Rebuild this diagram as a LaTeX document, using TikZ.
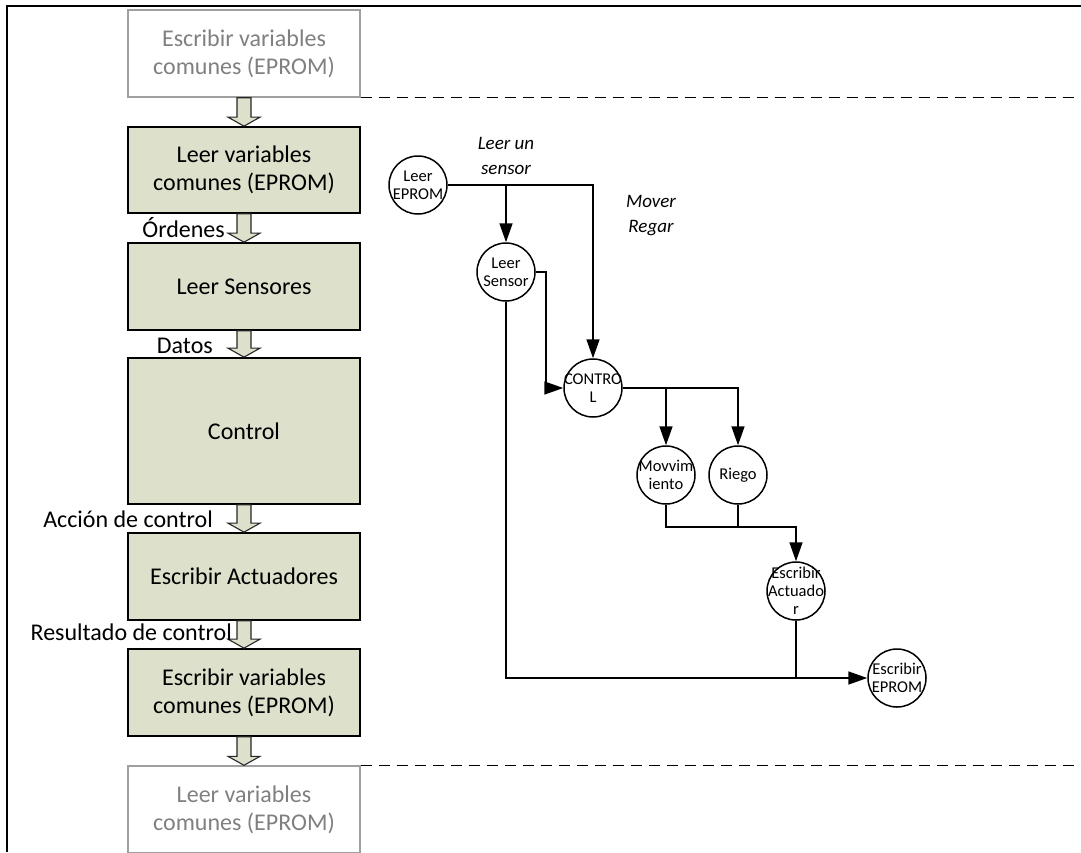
\documentclass[tikz,border=0pt]{standalone}
\usepackage{fontspec}
\setmainfont{Carlito}
\usetikzlibrary{arrows.meta}

\definecolor{stagefill}{RGB}{221,224,203}
\definecolor{ghostline}{RGB}{160,160,160}
\definecolor{ghosttext}{RGB}{128,128,128}

% block arrow between two stacked stages
\newcommand{\stagearrow}[2]{%
  \draw[stagearrow] ([xshift=-7pt]#1.south) -- ([xshift=7pt]#1.south)
    -- ([xshift=7pt,yshift=9pt]#2.north) -- ([xshift=16pt,yshift=9pt]#2.north)
    -- (#2.north) -- ([xshift=-16pt,yshift=9pt]#2.north)
    -- ([xshift=-7pt,yshift=9pt]#2.north) -- cycle;}

\begin{document}
\begin{tikzpicture}[x=1pt,y=-1pt,
  stage/.style={draw=black, line width=1.7pt, fill=stagefill,
    minimum width=232pt, inner sep=0pt, align=center,
    font=\fontsize{24}{28}\selectfont},
  ghost/.style={stage, draw=ghostline, line width=1.4pt, fill=white, text=ghosttext},
  stagearrow/.style={draw=black!85, line width=1.1pt, fill=stagefill, line join=miter},
  annot/.style={inner sep=0pt, font=\fontsize{24}{28}\selectfont},
  guide/.style={line width=1.5pt, dash pattern=on 11pt off 7pt},
  proc/.style={circle, draw=black, line width=1.5pt, minimum size=58pt, inner sep=0pt},
  proctext/.style={align=center, inner sep=0pt, font=\fontsize{16.5}{18}\selectfont},
  flow/.style={line width=1.6pt},
  flowarrow/.style={flow, -{Triangle[length=19pt,width=13pt]}},
  flowlabel/.style={align=center, inner sep=0pt, font=\itshape\fontsize{19}{25}\selectfont}]

\useasboundingbox (0,0) rectangle (1081,852);
\clip (0,0) rectangle (1081,852);

% outer frame
\draw[line width=2.2pt] (7,852) -- (7,6) -- (1081,6);

% ---- stages of the loop ----
\node[ghost, minimum height=87pt] (b1) at (244,53.5) {Escribir variables\\comunes (EPROM)};
\node[stage, minimum height=86pt] (b2) at (244,170) {Leer variables\\comunes (EPROM)};
\node[stage, minimum height=87pt] (b3) at (244,286.5) {Leer Sensores};
\node[stage, minimum height=146pt] (b4) at (244,431) {Control};
\node[stage, minimum height=87pt] (b5) at (244,576.5) {Escribir Actuadores};
\node[stage, minimum height=87pt] (b6) at (244,692.5) {Escribir variables\\comunes (EPROM)};
\node[ghost, minimum height=87pt] (b7) at (244,809.5) {Leer variables\\comunes (EPROM)};

\stagearrow{b1}{b2}
\stagearrow{b2}{b3}
\stagearrow{b3}{b4}
\stagearrow{b4}{b5}
\stagearrow{b5}{b6}
\stagearrow{b6}{b7}

% cycle boundaries
\draw[guide] (b1.south east) -- ++(730,0);
\draw[guide] (b7.north east) -- ++(730,0);

% data passed between stages
\node[annot, anchor=base east] (l1) at (225,237) {Órdenes};
\node[annot, anchor=base east] (l2) at (213,353) {Datos};
\node[annot, anchor=base east] (l3) at (213,527) {Acción de control};
\node[annot, anchor=base east] (l4) at (232,640) {Resultado de control};

% ---- process diagram ----
\node[proc, label={[proctext]center:{Leer\\EPROM}}] (le) at (418,185) {};
\node[proc, label={[proctext]center:{Leer\\Sensor}}] (ls) at (506,272) {};
\node[proc, label={[proctext]center:{CONTRO\\L}}] (ct) at (593,388) {};
\node[proc, label={[proctext]center:{Movvim\\iento}}] (mv) at (666,475) {};
\node[proc, label={[proctext]center:{Riego}}] (rg) at (738,475) {};
\node[proc, label={[proctext]center:{Escribir\\Actuado\\r}}] (ea) at (796,591) {};
\node[proc, label={[proctext]center:{Escribir\\EPROM}}] (ee) at (897,678) {};

\node[flowlabel] (t1) at (506,156) {Leer un\\sensor};
\node[flowlabel] (t2) at (651,216) {Mover\\Regar};

\draw[flowarrow] (le.east) -| (ct.north);
\draw[flowarrow] (ls.north |- le.east) -- (ls.north);
\draw[flowarrow] (ls.east) -- ++(10,0) |- (ct.west);
\draw[flowarrow] (ls.south) |- (ee.west);
\draw[flowarrow] (ct.east) -| (rg.north);
\draw[flowarrow] (mv.north |- ct.east) -- (mv.north);
\draw[flowarrow] (mv.south) -- ++(0,22) -| (ea.north);
\draw[flow] (rg.south) -- ++(0,22);
\draw[flow] (ea.south) -- (ea.south |- ee.west);

\end{tikzpicture}
\end{document}
